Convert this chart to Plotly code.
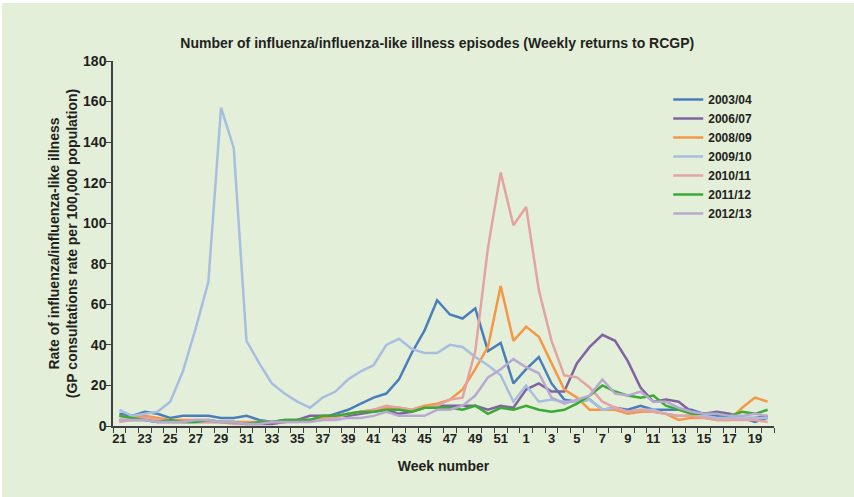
import plotly.graph_objects as go

# ── Data ────────────────────────────────────────────────────────────────────
WEEKS = [str(w) for w in list(range(21, 53)) + list(range(1, 21))]

S_2003_04 = [6, 5, 7, 6, 4, 5, 5, 5, 4, 4, 5, 3, 2, 3, 3, 3, 4, 6, 8, 11, 14,
             16, 23, 36, 47, 62, 55, 53, 58, 37, 41, 21, 28, 34, 21, 13, 12, 13, 8, 9, 8,
             10, 8, 8, 8, 8, 6, 5, 5, 4, 2, 4]
S_2006_07 = [3, 3, 3, 2, 2, 2, 2, 2, 2, 2, 1, 1, 1, 2, 3, 5, 5, 5, 5, 6, 7,
             8, 6, 7, 9, 10, 10, 10, 10, 8, 10, 9, 18, 21, 17, 17, 31, 39, 45, 42, 32,
             19, 12, 13, 12, 7, 6, 7, 6, 4, 4, 5]
S_2008_09 = [5, 4, 5, 4, 3, 3, 3, 3, 2, 2, 2, 2, 2, 2, 3, 3, 4, 5, 6, 7, 8,
             9, 9, 8, 10, 11, 13, 18, 28, 39, 69, 42, 49, 44, 31, 18, 14, 8, 8, 8, 6,
             7, 7, 6, 3, 4, 4, 3, 3, 9, 14, 12]
S_2009_10 = [8, 5, 6, 7, 12, 27, 48, 71, 157, 137, 42, 31, 21, 16, 12, 9, 14, 17, 23, 27, 30,
             40, 43, 38, 36, 36, 40, 39, 34, 30, 25, 12, 20, 12, 13, 12, 12, 13, 8, 9, 7,
             8, 8, 6, 5, 5, 5, 4, 4, 4, 4, 4]
S_2010_11 = [2, 3, 4, 3, 2, 2, 2, 2, 2, 1, 1, 2, 2, 2, 2, 3, 3, 4, 6, 7, 8,
             10, 9, 8, 9, 10, 13, 14, 37, 88, 125, 99, 108, 67, 42, 25, 24, 19, 12, 9, 7,
             8, 7, 6, 5, 5, 4, 3, 3, 3, 3, 2]
S_2011_12 = [5, 4, 3, 2, 3, 2, 2, 3, 2, 2, 1, 2, 2, 3, 3, 3, 5, 5, 6, 7, 7,
             8, 8, 7, 9, 9, 9, 8, 10, 6, 9, 8, 10, 8, 7, 8, 11, 15, 20, 17, 15,
             14, 15, 10, 8, 6, 6, 6, 5, 7, 6, 8]
S_2012_13 = [3, 3, 3, 2, 2, 2, 3, 3, 2, 2, 1, 1, 2, 2, 2, 2, 3, 3, 4, 4, 5,
             7, 5, 5, 5, 8, 8, 10, 15, 24, 28, 33, 29, 26, 14, 11, 13, 15, 23, 16, 15,
             17, 12, 12, 9, 7, 6, 6, 5, 5, 6, 5]

SERIES = [
    ("2003/04", S_2003_04, "#4a7ebb"),
    ("2006/07", S_2006_07, "#8064a2"),
    ("2008/09", S_2008_09, "#f79646"),
    ("2009/10", S_2009_10, "#a7bee0"),
    ("2010/11", S_2010_11, "#e3a3a3"),
    ("2011/12", S_2011_12, "#3aaa35"),
    ("2012/13", S_2012_13, "#b8a9d0"),
]

BG = "#e4efda"
AXIS = "#404040"
FONT = "Liberation Sans Narrow, Arial Narrow, sans-serif"

fig = go.Figure()
for name, vals, col in SERIES:
    fig.add_trace(go.Scatter(x=WEEKS, y=vals, name=f"<b>{name}</b>", mode="lines",
                             line=dict(color=col, width=2.5)))

# every other week gets a label, ticks on every category boundary
tick_text = [f"<b>{w}</b>" if i % 2 == 0 else "" for i, w in enumerate(WEEKS)]

fig.update_layout(
    width=854, height=497,
    paper_bgcolor="white",
    plot_bgcolor=BG,
    margin=dict(l=113, r=80, t=61, b=71),
    font=dict(family=FONT, size=13, color="#231f20"),
    title=dict(text="<b>Number of influenza/influenza-like illness episodes (Weekly returns to RCGP)</b>",
               x=0.512, xanchor="center", y=0.923, yref="container",
               font=dict(size=14)),
    # green panel behind everything, with a thin white strip top/left
    shapes=[dict(type="rect", xref="paper", yref="paper",
                 x0=-0.168, x1=1.2, y0=-0.3, y1=1.159,
                 fillcolor=BG, line=dict(width=0), layer="below")],
    showlegend=True,
    legend=dict(x=0.84, y=0.934, xanchor="left", yanchor="top",
                bgcolor="rgba(0,0,0,0)", font=dict(size=12),
                tracegroupgap=0, itemwidth=30),
    xaxis=dict(
        type="category", categoryorder="array", categoryarray=WEEKS,
        tickmode="array", tickvals=WEEKS, ticktext=tick_text,
        tickson="boundaries", ticks="outside", ticklen=5, tickcolor=AXIS,
        showline=True, linecolor=AXIS, linewidth=1.5, showgrid=False,
        tickangle=0, tickfont=dict(size=13),
        range=[-0.5, len(WEEKS) - 0.5],
        title=dict(text="<b>Week number</b>", font=dict(size=14), standoff=16),
    ),
    yaxis=dict(
        range=[0, 180], dtick=20, ticks="outside", ticklen=5, tickcolor=AXIS,
        showline=True, linecolor=AXIS, linewidth=1.5, showgrid=False, zeroline=False,
        tickprefix="<b>", ticksuffix="</b>", tickfont=dict(size=14),
        ticklabelstandoff=-3,
        title=dict(text="<b>Rate of influenza/influenza-like illness<br>"
                        "(GP consultations rate per 100,000 population)</b>",
                   font=dict(size=14), standoff=2),
    ),
)

fig.write_html("out.html", config={"displayModeBar": False},
               post_script="document.body.style.margin='0';")
